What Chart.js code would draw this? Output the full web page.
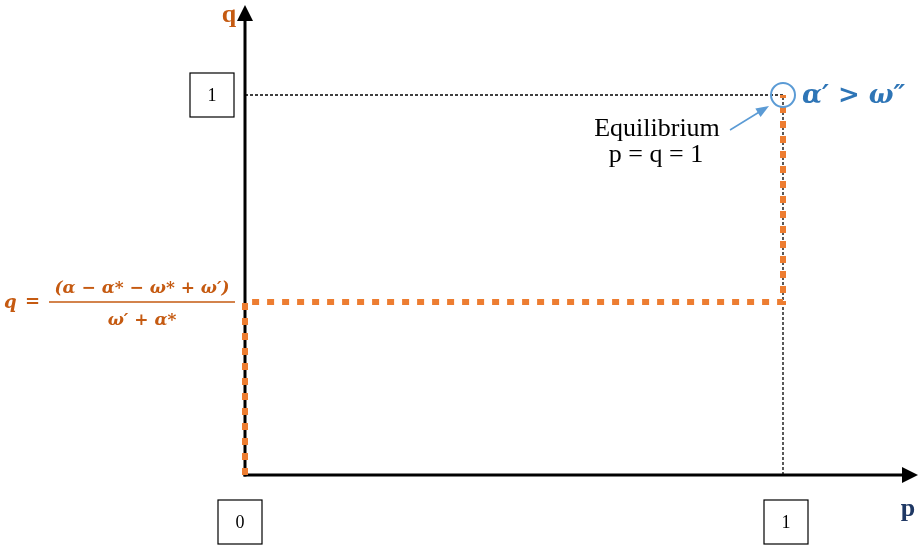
<!DOCTYPE html>
<html><head><meta charset="utf-8">
<script src="https://cdn.jsdelivr.net/npm/chart.js@4"></script>
<style>html,body{margin:0;padding:0;background:#fff}#wrap{width:922px;height:547px}</style>
</head><body><div id="wrap"><canvas id="c" width="922" height="547"></canvas></div>
<script>
// Data
const pathP = [0, 0, 1, 1];          // orange path, p values
const pathQ = [0, 0.455, 0.455, 1];  // orange path, q values
const guideP = [0, 1, 1];            // dashed guide, p values
const guideQ = [1, 1, 0];            // dashed guide, q values
const eqP = [1], eqQ = [1];          // equilibrium point
const xTickValues = [0, 1], xTickLabels = ['0', '1'];
const yTickValues = [1], yTickLabels = ['1'];
const axisNames = { x: 'p', y: 'q' };

const toPts = (xs, ys) => xs.map((x, i) => ({ x, y: ys[i] }));

const axesPlugin = {
  id: 'axesPlugin',
  beforeDatasetsDraw(chart) {
    const { ctx, scales: { x, y }, chartArea: a } = chart;
    const x0 = x.getPixelForValue(0), y0 = y.getPixelForValue(0);
    ctx.save();
    ctx.strokeStyle = '#000'; ctx.fillStyle = '#000'; ctx.lineWidth = 3;
    ctx.beginPath(); ctx.moveTo(x0 - 1.5, y0); ctx.lineTo(a.right - 12, y0); ctx.stroke();
    ctx.beginPath(); ctx.moveTo(x0, y0 + 1.5); ctx.lineTo(x0, a.top + 12); ctx.stroke();
    ctx.beginPath(); ctx.moveTo(a.right, y0); ctx.lineTo(a.right - 16, y0 - 8); ctx.lineTo(a.right - 16, y0 + 8); ctx.closePath(); ctx.fill();
    ctx.beginPath(); ctx.moveTo(x0, a.top); ctx.lineTo(x0 - 8, a.top + 16); ctx.lineTo(x0 + 8, a.top + 16); ctx.closePath(); ctx.fill();
    ctx.restore();
  }
};

const overlay = {
  id: 'overlay',
  afterDatasetsDraw(chart) {
    const { ctx, scales: { x, y } } = chart;
    const x0 = x.getPixelForValue(0), y0 = y.getPixelForValue(0);
    ctx.save();
    // tick boxes
    ctx.strokeStyle = '#000'; ctx.lineWidth = 1.2; ctx.font = '18px "Liberation Serif"'; ctx.textAlign = 'center'; ctx.textBaseline = 'middle';
    const box = (cx, cy, t) => { ctx.strokeRect(cx - 22, cy - 22, 44, 44); ctx.fillStyle = '#000'; ctx.fillText(t, cx, cy + 1); };
    xTickValues.forEach((v, i) => box(x.getPixelForValue(v) + (v === 0 ? -5 : 3), y0 + 47, xTickLabels[i]));
    yTickValues.forEach((v, i) => box(x0 - 33, y.getPixelForValue(v), yTickLabels[i]));
    // axis names
    ctx.font = 'bold 26px "Liberation Serif"';
    ctx.fillStyle = '#C55A11'; ctx.fillText(axisNames.y, x0 - 16, 15);
    ctx.fillStyle = '#1F3864'; ctx.fillText(axisNames.x, 908, y0 + 34);
    // formula
    const qy = y.getPixelForValue(pathQ[1]);
    ctx.fillStyle = '#C55A11'; ctx.strokeStyle = '#C55A11';
    ctx.font = 'bold italic 18px "DejaVu Serif"';
    ctx.textAlign = 'left'; ctx.fillText('q', 4, qy + 1);
    ctx.font = 'bold 18px "DejaVu Serif"'; ctx.fillText('=', 25, qy);
    ctx.lineWidth = 1.5; ctx.beginPath(); ctx.moveTo(49, qy); ctx.lineTo(235, qy); ctx.stroke();
    ctx.textAlign = 'center';
    ctx.font = 'bold italic 17px "DejaVu Serif"';
    ctx.fillText('(α − α* − ω* + ω′)', 142, qy - 14);
    ctx.fillText('ω′ + α*', 142, qy + 18);
    // equilibrium annotation
    const ex = x.getPixelForValue(1), ey = y.getPixelForValue(1);
    ctx.fillStyle = '#2E75B6'; ctx.font = 'bold italic 26px "DejaVu Serif"'; ctx.textAlign = 'left';
    ctx.fillText('α′ > ω″', ex + 19, ey + 1);
    ctx.fillStyle = '#000'; ctx.font = '26px "Liberation Serif"'; ctx.textAlign = 'center';
    ctx.fillText('Equilibrium', 657, ey + 34);
    ctx.fillText('p = q = 1', 656, ey + 60);
    // arrow
    ctx.strokeStyle = '#5B9BD5'; ctx.fillStyle = '#5B9BD5'; ctx.lineWidth = 1.5;
    const sx = 730, sy = 130, tx = ex - 14, ty = ey + 11;
    const ang = Math.atan2(ty - sy, tx - sx);
    ctx.beginPath(); ctx.moveTo(sx, sy); ctx.lineTo(tx - 10 * Math.cos(ang), ty - 10 * Math.sin(ang)); ctx.stroke();
    ctx.beginPath(); ctx.moveTo(tx, ty);
    ctx.lineTo(tx - 13 * Math.cos(ang) + 5 * Math.sin(ang), ty - 13 * Math.sin(ang) - 5 * Math.cos(ang));
    ctx.lineTo(tx - 13 * Math.cos(ang) - 5 * Math.sin(ang), ty - 13 * Math.sin(ang) + 5 * Math.cos(ang));
    ctx.closePath(); ctx.fill();
    ctx.restore();
  }
};

new Chart(document.getElementById('c'), {
  type: 'scatter',
  data: {
    datasets: [
      { data: toPts(guideP, guideQ), showLine: true, clip: false, borderColor: '#000', borderWidth: 1.3, borderDash: [3, 2], pointRadius: 0, order: 2 },
      { data: toPts(pathP, pathQ), showLine: true, clip: false, borderColor: '#ED7D31', borderWidth: 6, borderDash: [7, 8], borderCapStyle: 'butt', pointRadius: 0, order: 1 },
      { data: toPts(eqP, eqQ), showLine: false, clip: false, pointStyle: 'circle', pointRadius: 12, borderColor: '#5B9BD5', borderWidth: 2, backgroundColor: 'rgba(0,0,0,0)', order: 0 }
    ]
  },
  options: {
    responsive: false, animation: false,
    layout: { autoPadding: false, padding: { left: 245, right: 4, top: 5, bottom: 72 } },
    plugins: { legend: { display: false }, tooltip: { enabled: false } },
    scales: {
      x: { type: 'linear', display: false, min: 0, max: 673 / 538 },
      y: { type: 'linear', display: false, min: 0, max: 470 / 380 }
    }
  },
  plugins: [axesPlugin, overlay]
});
</script></body></html>
